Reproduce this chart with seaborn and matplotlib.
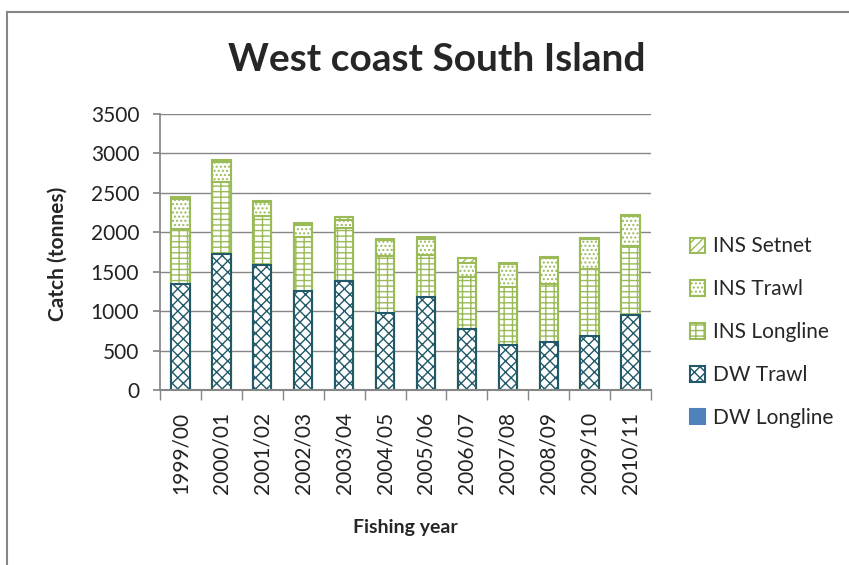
import numpy as np
import pandas as pd
import matplotlib
matplotlib.use("Agg")
import matplotlib.pyplot as plt
import seaborn as sns
from matplotlib.patches import Patch, Rectangle

# -------------------------------
# Data (tonnes)
# -------------------------------
years = ['1999/00', '2000/01', '2001/02', '2002/03', '2003/04', '2004/05',
         '2005/06', '2006/07', '2007/08', '2008/09', '2009/10', '2010/11']
dw_longline = [0, 0, 0, 0, 0, 0, 0, 0, 0, 0, 0, 0]
dw_trawl = [1340, 1730, 1580, 1255, 1385, 980, 1180, 775, 570, 615, 690, 945]
ins_longline = [700, 905, 630, 680, 675, 720, 535, 655, 730, 725, 845, 885]
ins_trawl = [385, 260, 168, 160, 91, 197, 202, 181, 293, 333, 374, 372]
ins_setnet = [20, 20, 20, 20, 40, 15, 25, 60, 15, 15, 20, 15]

series = ['DW Longline', 'DW Trawl', 'INS Longline', 'INS Trawl', 'INS Setnet']
df = pd.DataFrame({
    'year': years,
    'DW Longline': dw_longline,
    'DW Trawl': dw_trawl,
    'INS Longline': ins_longline,
    'INS Trawl': ins_trawl,
    'INS Setnet': ins_setnet,
})
cum = df[series].cumsum(axis=1)

# -------------------------------
# Style
# -------------------------------
sns.set_theme(style="white")
plt.rcParams['font.family'] = ['Lato', 'DejaVu Sans']
plt.rcParams['hatch.linewidth'] = 1.0

green = '#9BBB59'
teal = '#215968'
blue = '#4F81BD'
grey = '#868686'

styles = {
    'INS Setnet': dict(color='white', edgecolor=green, hatch='////', linewidth=1.5),
    'INS Trawl': dict(color='white', edgecolor=green, hatch='....', linewidth=1.5),
    'INS Longline': dict(color='white', edgecolor=green, hatch='---||', linewidth=1.5),
    'DW Trawl': dict(color='white', edgecolor=teal, hatch='xxx', linewidth=1.5),
    'DW Longline': dict(color=blue, edgecolor=blue, linewidth=0),
}

fig = plt.figure(figsize=(8.49, 5.65), dpi=100)
ax = fig.add_axes([160 / 849, 1 - 390 / 565, 491 / 849, 276 / 565])

# draw cumulative bars from the top layer down so lower layers sit on top
for name in series[::-1]:
    sns.barplot(x=df['year'], y=cum[name], ax=ax, width=0.45, saturation=1,
                errorbar=None, **styles[name])

# -------------------------------
# Axes
# -------------------------------
ax.set_ylim(0, 3500)
ax.set_yticks(range(0, 3501, 500))
ax.set_xlim(-0.5, 11.5)
ax.yaxis.grid(True, color=grey, linewidth=1)
ax.set_axisbelow(True)
ax.set_xlabel('')
ax.set_ylabel('')

for s in ['top', 'right']:
    ax.spines[s].set_visible(False)
ax.spines['left'].set_color(grey)
ax.spines['bottom'].set_color(grey)
ax.spines['bottom'].set_linewidth(1.5)

ax.tick_params(axis='y', left=True, length=5, color=grey, labelsize=15,
               labelcolor='#222222', pad=10)
ax.tick_params(axis='x', which='major', length=0, labelsize=15,
               labelcolor='#222222', pad=16, rotation=90)
ax.set_xticks(np.arange(-0.5, 12, 1), minor=True)
ax.tick_params(axis='x', which='minor', bottom=True, length=7, color=grey)

fig.text(58 / 849, 1 - 254 / 565, 'Catch (tonnes)', rotation=90, ha='center',
         va='center', fontsize=15, fontweight='bold')
fig.text(405 / 849, 1 - 528 / 565, 'Fishing year', ha='center', va='center',
         fontsize=14, fontweight='bold')
fig.text(437 / 849, 1 - 60 / 565, 'West coast South Island', ha='center',
         va='center', fontsize=28, fontweight='bold')

# -------------------------------
# Legend
# -------------------------------
handles = [Patch(facecolor=styles[n]['color'], edgecolor=styles[n]['edgecolor'],
                 hatch=styles[n].get('hatch'), linewidth=1.5, label=n)
           for n in series[::-1]]
fig.legend(handles=handles, loc='upper left', bbox_to_anchor=(0.80, 1 - 226 / 565),
           frameon=False, fontsize=15, handlelength=0.75, handleheight=0.75,
           handletextpad=0.35, labelspacing=1.1, borderpad=0)

# outer chart border
fig.patches.append(Rectangle((7 / 849, -0.1), 1.2, 0.1 + 1 - 12 / 565,
                             transform=fig.transFigure, fill=False,
                             edgecolor=grey, linewidth=1.5))

plt.savefig('out.png', dpi=100)
plt.close()
